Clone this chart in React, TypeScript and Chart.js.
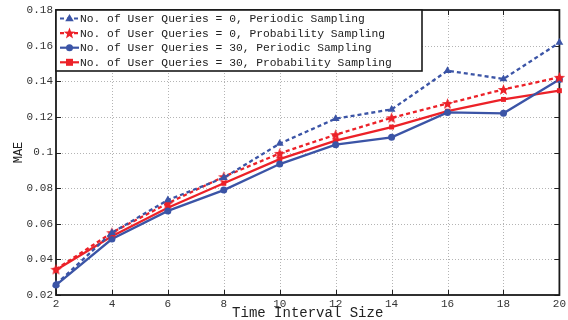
import React, { useEffect, useRef } from "react";
import { Chart, registerables } from "chart.js";

Chart.register(...registerables);

const intervals = [2, 4, 6, 8, 10, 12, 14, 16, 18, 20];
const periodic0 = [0.026, 0.055, 0.0733, 0.0858, 0.105, 0.119, 0.1242, 0.1459, 0.1413, 0.1617];
const probability0 = [0.0344, 0.055, 0.0715, 0.0864, 0.0995, 0.110, 0.1195, 0.1275, 0.1354, 0.1422];
const periodic30 = [0.0256, 0.0514, 0.0672, 0.0789, 0.0935, 0.1044, 0.1085, 0.1225, 0.122, 0.141];
const probability30 = [0.034, 0.053, 0.069, 0.0827, 0.0963, 0.1067, 0.1143, 0.1232, 0.1298, 0.1347];

const seriesLabels = [
  "No. of User Queries = 0, Periodic Sampling",
  "No. of User Queries = 0, Probability Sampling",
  "No. of User Queries = 30, Periodic Sampling",
  "No. of User Queries = 30, Probability Sampling",
];
const xTicks = [2, 4, 6, 8, 10, 12, 14, 16, 18, 20];
const yTicks = [0.02, 0.04, 0.06, 0.08, 0.1, 0.12, 0.14, 0.16, 0.18];
const xTitle = "Time Interval Size";
const yTitle = "MAE";

const BLUE = "#3b54a6";
const RED = "#ec2128";
const MONO = "'Liberation Mono', 'DejaVu Sans Mono', monospace";

function starPath(ctx: CanvasRenderingContext2D, cx: number, cy: number, R: number, r: number) {
  ctx.beginPath();
  for (let i = 0; i < 10; i++) {
    const a = -Math.PI / 2 + (i * Math.PI) / 5;
    const rad = i % 2 === 0 ? R : r;
    const px = cx + rad * Math.cos(a);
    const py = cy + rad * Math.sin(a);
    if (i === 0) ctx.moveTo(px, py);
    else ctx.lineTo(px, py);
  }
  ctx.closePath();
}

function makeStar(color: string): HTMLCanvasElement {
  const c = document.createElement("canvas");
  c.width = 13;
  c.height = 13;
  const g = c.getContext("2d")!;
  g.fillStyle = color;
  starPath(g, 6.5, 7, 6, 2.5);
  g.fill();
  return c;
}

function drawMarker(ctx: CanvasRenderingContext2D, kind: string, x: number, y: number, color: string) {
  ctx.save();
  ctx.fillStyle = color;
  ctx.strokeStyle = color;
  ctx.setLineDash([]);
  if (kind === "triangle") {
    const r = 4.5;
    ctx.beginPath();
    ctx.moveTo(x, y - r);
    ctx.lineTo(x + r * 0.95, y + r * 0.6);
    ctx.lineTo(x - r * 0.95, y + r * 0.6);
    ctx.closePath();
    ctx.fill();
  } else if (kind === "star") {
    starPath(ctx, x, y + 0.5, 6, 2.5);
    ctx.fill();
  } else if (kind === "circle") {
    ctx.beginPath();
    ctx.arc(x, y, 3.5, 0, Math.PI * 2);
    ctx.fill();
  } else {
    ctx.fillRect(x - 3.5, y - 3.5, 7, 7);
  }
  ctx.restore();
}

const seriesStyles = [
  { color: BLUE, dash: [4, 3], marker: "triangle" },
  { color: RED, dash: [4, 3], marker: "star" },
  { color: BLUE, dash: [], marker: "circle" },
  { color: RED, dash: [], marker: "rect" },
];

const framePlugin = {
  id: "frame",
  beforeDatasetsDraw(chart: any) {
    const { ctx, chartArea, scales } = chart;
    const { left, right, top, bottom } = chartArea;
    ctx.save();
    ctx.strokeStyle = "#b4b4b4";
    ctx.lineWidth = 1;
    ctx.setLineDash([1, 2]);
    xTicks.slice(1, -1).forEach((v) => {
      const px = Math.round(scales.x.getPixelForValue(v)) + 0.5;
      ctx.beginPath();
      ctx.moveTo(px, top);
      ctx.lineTo(px, bottom);
      ctx.stroke();
    });
    yTicks.slice(1, -1).forEach((v) => {
      const py = Math.round(scales.y.getPixelForValue(v)) + 0.5;
      ctx.beginPath();
      ctx.moveTo(left, py);
      ctx.lineTo(right, py);
      ctx.stroke();
    });
    ctx.setLineDash([]);
    ctx.strokeStyle = "#222";
    ctx.lineWidth = 1;
    xTicks.forEach((v) => {
      const px = Math.round(scales.x.getPixelForValue(v)) + 0.5;
      ctx.beginPath();
      ctx.moveTo(px, bottom);
      ctx.lineTo(px, bottom - 5);
      ctx.moveTo(px, top);
      ctx.lineTo(px, top + 5);
      ctx.stroke();
    });
    yTicks.forEach((v) => {
      const py = Math.round(scales.y.getPixelForValue(v)) + 0.5;
      ctx.beginPath();
      ctx.moveTo(left, py);
      ctx.lineTo(left + 5, py);
      ctx.moveTo(right, py);
      ctx.lineTo(right - 5, py);
      ctx.stroke();
    });
    ctx.lineWidth = 1.8;
    ctx.strokeStyle = "#1a1a1a";
    ctx.strokeRect(left, top, right - left, bottom - top);
    ctx.restore();
  },
  afterDatasetsDraw(chart: any) {
    const { ctx, chartArea } = chart;
    const { left, top } = chartArea;
    const boxW = 366;
    const boxH = 61;
    ctx.save();
    ctx.fillStyle = "#ffffff";
    ctx.fillRect(left, top, boxW, boxH);
    ctx.lineWidth = 1.6;
    ctx.strokeStyle = "#1a1a1a";
    ctx.strokeRect(left, top, boxW, boxH);
    ctx.font = `11.3px ${MONO}`;
    ctx.textBaseline = "middle";
    ctx.textAlign = "left";
    seriesLabels.forEach((label, i) => {
      const st = seriesStyles[i];
      const y = top + 8.5 + i * 14.6;
      ctx.strokeStyle = st.color;
      ctx.lineWidth = 2.2;
      ctx.setLineDash(st.dash);
      ctx.beginPath();
      ctx.moveTo(left + 4, y);
      ctx.lineTo(left + 23, y);
      ctx.stroke();
      ctx.setLineDash([]);
      drawMarker(ctx, st.marker, left + 13.5, y, st.color);
      ctx.fillStyle = "#222";
      ctx.fillText(label, left + 24, y + 0.5);
    });
    ctx.restore();
  },
};

export default function App() {
  const ref = useRef<HTMLCanvasElement | null>(null);

  useEffect(() => {
    if (!ref.current) return;
    const starRed = makeStar(RED);
    const seriesValues = [periodic0, probability0, periodic30, probability30];
    const pointStyles: any[] = ["triangle", starRed, "circle", "rect"];
    const radii = [4.5, 6, 3.5, 3.5];
    const chart = new Chart(ref.current, {
      type: "line",
      data: {
        datasets: seriesValues.map((vals, i) => ({
          label: seriesLabels[i],
          data: vals.map((v, j) => ({ x: intervals[j], y: v })),
          borderColor: seriesStyles[i].color,
          backgroundColor: seriesStyles[i].color,
          borderWidth: 2.3,
          borderDash: seriesStyles[i].dash,
          pointStyle: pointStyles[i],
          pointRadius: radii[i],
          pointBorderWidth: 0,
          pointBackgroundColor: seriesStyles[i].color,
          fill: false,
          tension: 0,
          clip: false as any,
        })),
      },
      options: {
        animation: false,
        responsive: false,
        events: [],
        layout: { padding: { top: 10, right: 7, left: 0, bottom: 0 } },
        plugins: { legend: { display: false }, tooltip: { enabled: false } },
        scales: {
          x: {
            type: "linear",
            min: 2,
            max: 20,
            afterBuildTicks: (s: any) => {
              s.ticks = xTicks.map((v) => ({ value: v }));
            },
            afterFit: (s: any) => {
              s.height = 25;
            },
            grid: { display: false, drawTicks: false },
            border: { display: false },
            ticks: {
              padding: 2,
              color: "#333",
              font: { family: MONO, size: 11 },
              maxRotation: 0,
              callback: (v: any) => String(v),
            },
            title: {
              display: true,
              text: xTitle,
              color: "#222",
              font: { family: MONO, size: 14, lineHeight: 1 },
              padding: { top: 0, bottom: 0 },
            },
          },
          y: {
            type: "linear",
            min: 0.02,
            max: 0.18,
            afterBuildTicks: (s: any) => {
              s.ticks = yTicks.map((v) => ({ value: v }));
            },
            afterFit: (s: any) => {
              s.width = 56;
            },
            grid: { display: false, drawTicks: false },
            border: { display: false },
            ticks: {
              padding: 3,
              color: "#333",
              font: { family: MONO, size: 11 },
              callback: (v: any) => String(Number(Number(v).toFixed(2))),
            },
            title: {
              display: true,
              text: yTitle,
              color: "#222",
              font: { family: MONO, size: 12, lineHeight: 1 },
              padding: { top: 12.5, bottom: 0 },
            },
          },
        },
      },
      plugins: [framePlugin],
    });
    return () => chart.destroy();
  }, []);

  return (
    <div style={{ position: "absolute", left: 0, top: 0, width: 568, height: 320, background: "#fff" }}>
      <canvas ref={ref} width={568} height={320} style={{ display: "block", width: 568, height: 320 }} />
    </div>
  );
}
